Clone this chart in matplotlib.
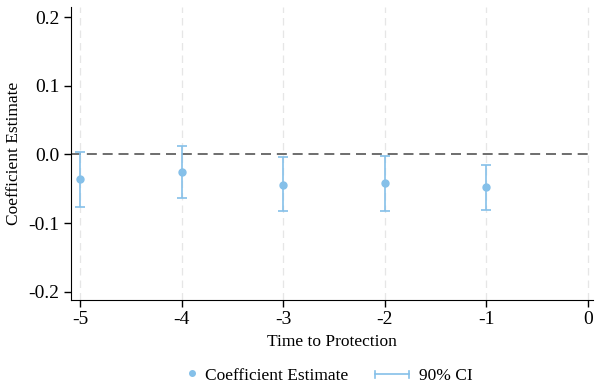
import matplotlib.pyplot as plt
from matplotlib.lines import Line2D
from matplotlib.legend_handler import HandlerBase

plt.rcParams['font.family'] = ['Liberation Serif', 'DejaVu Serif']

# event-study coefficients
periods = [-5, -4, -3, -2, -1]
coef = [-0.036, -0.026, -0.044, -0.042, -0.048]
ci_low = [-0.076, -0.064, -0.083, -0.083, -0.081]
ci_high = [0.004, 0.013, -0.003, -0.002, -0.015]
xticks = [-5, -4, -3, -2, -1, 0]
yticks = [-0.2, -0.1, 0.0, 0.1, 0.2]

blue = '#85C0E9'


class DotHandler(HandlerBase):
    def create_artists(self, legend, orig, xd, yd, w, h, fs, trans):
        m = Line2D([w - 2], [h / 2 + 1], marker='o', ms=4, color=blue, ls='none')
        m.set_transform(trans)
        return [m]


class CIHandler(HandlerBase):
    def create_artists(self, legend, orig, xd, yd, w, h, fs, trans):
        y = h / 2
        line = Line2D([0, w], [y, y], color=blue, lw=1.2)
        c1 = Line2D([0, 0], [y - 2.5, y + 2.5], color=blue, lw=1.2)
        c2 = Line2D([w, w], [y - 2.5, y + 2.5], color=blue, lw=1.2)
        for a in (line, c1, c2):
            a.set_transform(trans)
        return [line, c1, c2]


fig = plt.figure(figsize=(5.95, 3.92), dpi=100)
ax = fig.add_axes([0.119, 0.235, 0.878, 0.747])

for t in xticks:
    ax.axvline(t, color='#e6e6e6', lw=0.9, ls=(0, (6, 4)), zorder=0)
ax.axhline(0, color='#555555', lw=1.2, ls=(0, (6, 3.5)), zorder=1)

err_lo = [c - l for c, l in zip(coef, ci_low)]
err_hi = [h - c for c, h in zip(coef, ci_high)]
ax.errorbar(periods, coef, yerr=[err_lo, err_hi], fmt='none', ecolor=blue,
            elinewidth=1.2, capsize=3.5, capthick=1.2, zorder=2)
ax.plot(periods, coef, 'o', color=blue, ms=5, zorder=3)

ax.set_xlim(-5.09, 0.05)
ax.set_ylim(-0.212, 0.215)
ax.set_xticks(xticks)
ax.set_xticklabels([str(t) for t in xticks])
ax.set_yticks(yticks)
ax.set_yticklabels(['-0.2', '-0.1', '0.0', '0.1', '0.2'])
ax.tick_params(labelsize=14, length=5, width=1, color='black', pad=3)
ax.spines['top'].set_visible(False)
ax.spines['right'].set_visible(False)
ax.set_xlabel('Time to Protection', fontsize=12.5, labelpad=4)
ax.set_ylabel('Coefficient Estimate', fontsize=12.5, labelpad=5)

h_dot = Line2D([], [])
h_ci = Line2D([], [])
fig.legend([h_dot, h_ci], ['Coefficient Estimate', '90% CI'], loc='center',
           bbox_to_anchor=(0.532, 0.04), ncol=2, frameon=False,
           fontsize=12.5, handlelength=1.96, columnspacing=1.55, handletextpad=0.58,
           handler_map={h_dot: DotHandler(), h_ci: CIHandler()})

fig.savefig('out.png', dpi=100)
